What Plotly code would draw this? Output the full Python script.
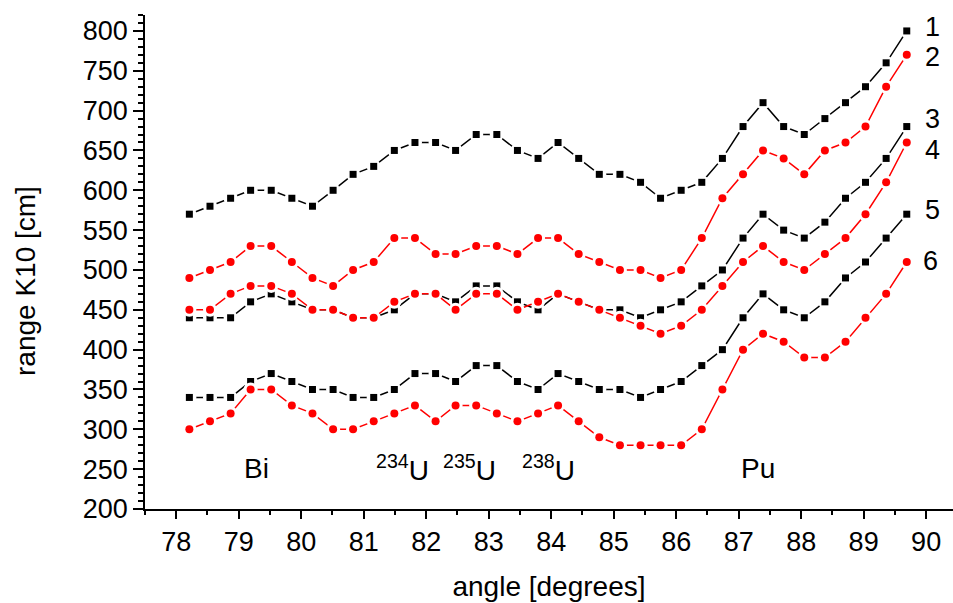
import plotly.graph_objects as go

# ---- data ----
angle = [78.21, 78.54, 78.87, 79.19, 79.52, 79.85, 80.18, 80.51, 80.83, 81.16,
         81.49, 81.82, 82.15, 82.47, 82.80, 83.13, 83.46, 83.79, 84.11, 84.44,
         84.77, 85.10, 85.43, 85.75, 86.08, 86.41, 86.74, 87.07, 87.39, 87.72,
         88.05, 88.38, 88.71, 89.03, 89.36, 89.69]

range_1 = [570, 580, 590, 600, 600, 590, 580, 600, 620, 630, 650, 660, 660, 650, 670, 670, 650, 640,
           660, 640, 620, 620, 610, 590, 600, 610, 640, 680, 710, 680, 670, 690, 710, 730, 760, 800]
range_2 = [490, 500, 510, 530, 530, 510, 490, 480, 500, 510, 540, 540, 520, 520, 530, 530, 520, 540,
           540, 520, 510, 500, 500, 490, 500, 540, 590, 620, 650, 640, 620, 650, 660, 680, 730, 770]
range_3 = [440, 440, 440, 460, 470, 460, 450, 450, 440, 440, 450, 470, 470, 460, 480, 480, 460, 450,
           470, 460, 450, 450, 440, 450, 460, 480, 500, 540, 570, 550, 540, 560, 590, 610, 640, 680]
range_4 = [450, 450, 470, 480, 480, 470, 450, 450, 440, 440, 460, 470, 470, 450, 470, 470, 450, 460,
           470, 460, 450, 440, 430, 420, 430, 450, 480, 510, 530, 510, 500, 520, 540, 570, 610, 660]
range_5 = [340, 340, 340, 360, 370, 360, 350, 350, 340, 340, 350, 370, 370, 360, 380, 380, 360, 350,
           370, 360, 350, 350, 340, 350, 360, 380, 400, 440, 470, 450, 440, 460, 490, 510, 540, 570]
range_6 = [300, 310, 320, 350, 350, 330, 320, 300, 300, 310, 320, 330, 310, 330, 330, 320, 310, 320,
           330, 310, 290, 280, 280, 280, 280, 300, 350, 400, 420, 410, 390, 390, 410, 440, 470, 510]

series_names = ["1", "2", "3", "4", "5", "6"]
series_values = [range_1, range_2, range_3, range_4, range_5, range_6]
series_colors = ["#000000", "#ff0000", "#000000", "#ff0000", "#000000", "#ff0000"]
series_symbols = ["square", "circle", "square", "circle", "square", "circle"]

# end-of-line labels (position in data units)
label_x = [90.10, 90.10, 90.10, 90.10, 90.10, 90.07]
label_y = [805, 767, 689, 650, 575, 511]

# element labels
element_text = ["Bi", "<sup>234</sup>U", "<sup>235</sup>U", "<sup>238</sup>U", "Pu"]
element_x = [79.29, 81.62, 82.70, 83.95, 87.31]
element_y = 251

x_title = "angle [degrees]"
y_title = "range K10 [cm]"

FONT = "Arial, Liberation Sans, sans-serif"

fig = go.Figure()
for name, vals, col, sym in zip(series_names, series_values, series_colors, series_symbols):
    fig.add_trace(go.Scatter(x=angle, y=vals, mode="lines",
                             line=dict(color=col, width=1.5), hoverinfo="skip",
                             showlegend=False))
    fig.add_trace(go.Scatter(x=angle, y=vals, mode="markers",
                             marker=dict(color="white", size=14, symbol="circle",
                                         line=dict(width=0)),
                             hoverinfo="skip", showlegend=False))
    fig.add_trace(go.Scatter(x=angle, y=vals, mode="markers", name=name,
                             marker=dict(color=col, size=8 if sym == "circle" else 7,
                                         symbol=sym, line=dict(width=0)),
                             showlegend=False))

for t, x, y in zip(series_names, label_x, label_y):
    fig.add_annotation(x=x, y=y, text=t, showarrow=False, xanchor="center", yanchor="middle",
                       font=dict(family=FONT, size=27, color="black"))

for t, x in zip(element_text, element_x):
    fig.add_annotation(x=x, y=element_y, text=t, showarrow=False, xanchor="center", yanchor="middle",
                       font=dict(family=FONT, size=28, color="black"))

# y-axis title placed precisely
fig.add_annotation(xref="paper", yref="paper", x=0, y=0.5, xshift=-120, yshift=-19,
                   text=y_title, textangle=-90, showarrow=False,
                   xanchor="center", yanchor="middle",
                   font=dict(family=FONT, size=28, color="black"))

fig.update_layout(
    width=953, height=603,
    margin=dict(l=145, r=0, t=15, b=94),
    plot_bgcolor="white", paper_bgcolor="white",
    font=dict(family=FONT, color="black"),
    showlegend=False,
)

fig.update_xaxes(
    range=[77.5, 90.43], dtick=1, tick0=78,
    showgrid=False, zeroline=False,
    showline=True, linecolor="black", linewidth=1.5,
    ticks="outside", ticklen=8, tickwidth=1.5, tickcolor="black",
    tickfont=dict(family=FONT, size=27, color="black"),
    minor=dict(dtick=0.5, tick0=78, ticks="outside", ticklen=4, tickwidth=1.5, tickcolor="black"),
    title=dict(text=x_title, font=dict(family=FONT, size=28, color="black"), standoff=20),
)
fig.update_yaxes(
    range=[200, 820], dtick=50, tick0=200,
    showgrid=False, zeroline=False,
    showline=True, linecolor="black", linewidth=1.5,
    ticks="outside", ticklen=10, tickwidth=1.5, tickcolor="black",
    tickfont=dict(family=FONT, size=27, color="black"),
    minor=dict(dtick=10, tick0=200, ticks="outside", ticklen=5, tickwidth=1.5, tickcolor="black"),
)

fig.write_html("out.html")
